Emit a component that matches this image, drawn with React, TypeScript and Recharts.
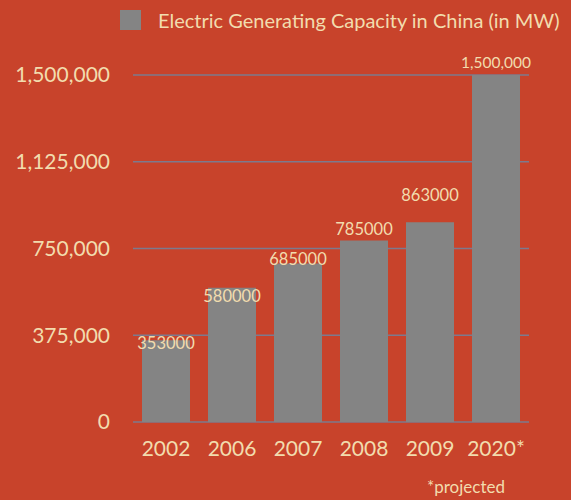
import { BarChart, Bar, XAxis, YAxis, CartesianGrid, Legend, LabelList } from "recharts";

const years = ["2002", "2006", "2007", "2008", "2009", "2020*"];
const capacity = [353000, 580000, 685000, 785000, 863000, 1500000];
const barLabels = ["353000", "580000", "685000", "785000", "863000", "1,500,000"];
const yTicks = [0, 375000, 750000, 1125000, 1500000];

// labels in the original sit a bit irregularly around the bar tops
const labelShift = [3, 8, -5, -11, -27, -13];

const data = years.map((year, i) => ({ year, capacity: capacity[i], label: barLabels[i] }));

const BG = "#c8432b";
const BAR = "#848484";
const TEXT = "#f2dcae";
const GRID = "#7c7a8e";
const FONT = "Lato, 'Open Sans', sans-serif";

function renderLegend() {
  return (
    <div style={{ display: "flex", alignItems: "center", fontFamily: FONT, color: TEXT, fontSize: 20, height: 22 }}>
      <span style={{ width: 21, height: 20, background: BAR, display: "inline-block", marginRight: 17 }} />
      <span>Electric Generating Capacity in China (in MW)</span>
    </div>
  );
}

function BarLabel(props: any) {
  const { x, y, width, index } = props;
  return (
    <text
      x={x + width / 2}
      y={y + labelShift[index]}
      textAnchor="middle"
      dominantBaseline="central"
      fill={TEXT}
      fontSize={index === 5 ? 15.5 : 16.5}
      fontFamily={FONT}
    >
      {barLabels[index]}
    </text>
  );
}

export default function App() {
  return (
    <div style={{ position: "fixed", left: 0, top: 0, width: 571, height: 500, background: BG, fontFamily: FONT }}>
      <BarChart width={571} height={500} data={data} margin={{ top: 53, right: 42, bottom: 48, left: 0 }}>
        <CartesianGrid vertical={false} stroke={GRID} strokeWidth={1.5} />
        <XAxis
          dataKey="year"
          height={30}
          axisLine={false}
          tickLine={false}
          tickSize={0}
          tickMargin={19}
          tick={{ fill: TEXT, fontSize: 21, fontFamily: FONT }}
        />
        <YAxis
          width={133}
          domain={[0, 1500000]}
          ticks={yTicks}
          axisLine={false}
          tickLine={false}
          tickSize={0}
          tickMargin={23}
          tick={{ fill: TEXT, fontSize: 21, fontFamily: FONT }}
          tickFormatter={(v: number) => v.toLocaleString("en-US")}
        />
        <Legend
          verticalAlign="top"
          align="left"
          content={renderLegend}
          wrapperStyle={{ top: 9, left: 120, width: 451, height: 22 }}
        />
        <Bar dataKey="capacity" fill={BAR} barSize={48} isAnimationActive={false}>
          <LabelList dataKey="label" content={BarLabel} />
        </Bar>
      </BarChart>
      <div style={{ position: "absolute", left: 427, top: 476, color: TEXT, fontSize: 17, fontFamily: FONT }}>
        *projected
      </div>
    </div>
  );
}
